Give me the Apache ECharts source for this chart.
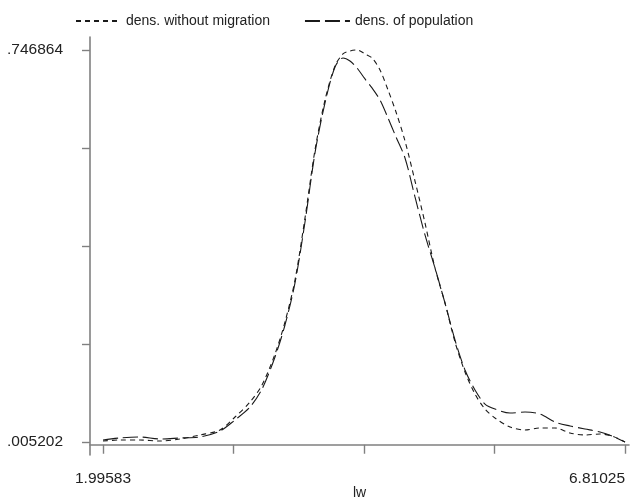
<!DOCTYPE html>
<html>
<head>
<meta charset="utf-8">
<script src="https://cdn.jsdelivr.net/npm/echarts@6/dist/echarts.min.js"></script>
<style>
  html, body { margin: 0; padding: 0; background: #fff; }
  #chart { width: 630px; height: 503px; }
</style>
</head>
<body>
<div id="chart"></div>
<script>
// lw grid (x)
const lw = [1.9958, 2.1526, 2.3371, 2.5215, 2.7060, 2.8905, 3.0749, 3.2133, 3.3516, 3.4623,
  3.5822, 3.6744, 3.7667, 3.8589, 3.9511, 4.0434, 4.1356, 4.2094, 4.2739, 4.3385,
  4.4123, 4.4768, 4.5506, 4.6244, 4.6982, 4.7812, 4.8734, 4.9656, 5.0579, 5.1501,
  5.2423, 5.3346, 5.4268, 5.5190, 5.6113, 5.7496, 5.8880, 6.0263, 6.1647, 6.3030,
  6.4413, 6.5797, 6.6903, 6.8103]

// density without migration (short dashes)
const densNoMig = [0.0071, 0.0090, 0.0090, 0.0071, 0.0109, 0.0185, 0.0279, 0.0525, 0.0808, 0.1130,
  0.1717, 0.2323, 0.3117, 0.4291, 0.5577, 0.6523, 0.7167, 0.7394, 0.7450, 0.7469,
  0.7394, 0.7318, 0.7091, 0.6713, 0.6296, 0.5748, 0.4990, 0.4196, 0.3344, 0.2682,
  0.1944, 0.1377, 0.0959, 0.0675, 0.0506, 0.0336, 0.0279, 0.0317, 0.0317, 0.0222,
  0.0185, 0.0203, 0.0166, 0.0052]

// density of population (long dashes)
const densPop = [0.0090, 0.0128, 0.0147, 0.0109, 0.0128, 0.0147, 0.0260, 0.0468, 0.0713, 0.1054,
  0.1661, 0.2266, 0.3061, 0.4215, 0.5520, 0.6467, 0.7148, 0.7318, 0.7261, 0.7129,
  0.6921, 0.6751, 0.6523, 0.6183, 0.5823, 0.5426, 0.4688, 0.3969, 0.3344, 0.2682,
  0.1982, 0.1415, 0.1036, 0.0770, 0.0675, 0.0600, 0.0619, 0.0581, 0.0430, 0.0355,
  0.0298, 0.0241, 0.0166, 0.0052]

// ticks: 5 each, only the end ones labelled
const xTicks = [1.99583, 3.199435, 4.40304, 5.606645, 6.81025]
const xLabels = [1.99583, 6.81025]
const yTicks = [0.005202, 0.1906175, 0.376033, 0.5614485, 0.746864]
const yLabels = [0.005202, 0.746864]

const chart = echarts.init(document.getElementById('chart'))
const axisGray = '#808080'
const font = 'Liberation Sans, Arial, sans-serif'

const toPairs = (ys) => lw.map((x, i) => [x, ys[i]])

chart.setOption({
  animation: false,
  textStyle: { fontFamily: font },
  legend: {
    top: 9,
    left: 70,
    itemWidth: 45,
    itemHeight: 14,
    itemGap: 34,
    itemStyle: { opacity: 0 },
    textStyle: { fontSize: 14, color: '#222', fontFamily: font },
    data: ['dens. without migration', 'dens. of population']
  },
  grid: { left: 90, right: 1, top: 37, bottom: 48, containLabel: false, outerBoundsMode: 'none' },
  xAxis: {
    type: 'value',
    min: 1.87593,
    max: 6.84714,
    name: 'lw',
    nameLocation: 'middle',
    nameGap: 31,
    nameMoveOverlap: false,
    nameTextStyle: { fontSize: 14, color: '#222' },
    axisLine: { show: true, lineStyle: { color: axisGray, width: 1.6 } },
    axisTick: { show: true, length: 9, customValues: xTicks, lineStyle: { color: axisGray, width: 1.4 } },
    axisLabel: {
      customValues: xLabels,
      margin: 16,
      fontSize: 15.5,
      color: '#222',
      alignMaxLabel: 'right',
      formatter: (v) => String(v)
    },
    splitLine: { show: false }
  },
  yAxis: {
    type: 'value',
    min: -0.019394,
    max: 0.77146,
    axisLine: { show: true, lineStyle: { color: axisGray, width: 1.6 } },
    axisTick: { show: true, length: 8, customValues: yTicks, lineStyle: { color: axisGray, width: 1.4 } },
    axisLabel: {
      customValues: yLabels,
      margin: 27,
      fontSize: 15.5,
      color: '#222',
      formatter: (v) => v.toFixed(6).replace(/^0/, '')
    },
    splitLine: { show: false }
  },
  series: [
    {
      name: 'dens. without migration',
      type: 'line',
      data: toPairs(densNoMig),
      smooth: 0.3,
      showSymbol: false,
      symbol: 'none',
      itemStyle: { color: '#1a1a1a' },
      lineStyle: { color: '#1a1a1a', width: 1.1, type: [5, 4] }
    },
    {
      name: 'dens. of population',
      type: 'line',
      data: toPairs(densPop),
      smooth: 0.3,
      showSymbol: false,
      symbol: 'none',
      itemStyle: { color: '#1a1a1a' },
      lineStyle: { color: '#1a1a1a', width: 1.1, type: [15, 5] }
    }
  ]
})
</script>
</body>
</html>
